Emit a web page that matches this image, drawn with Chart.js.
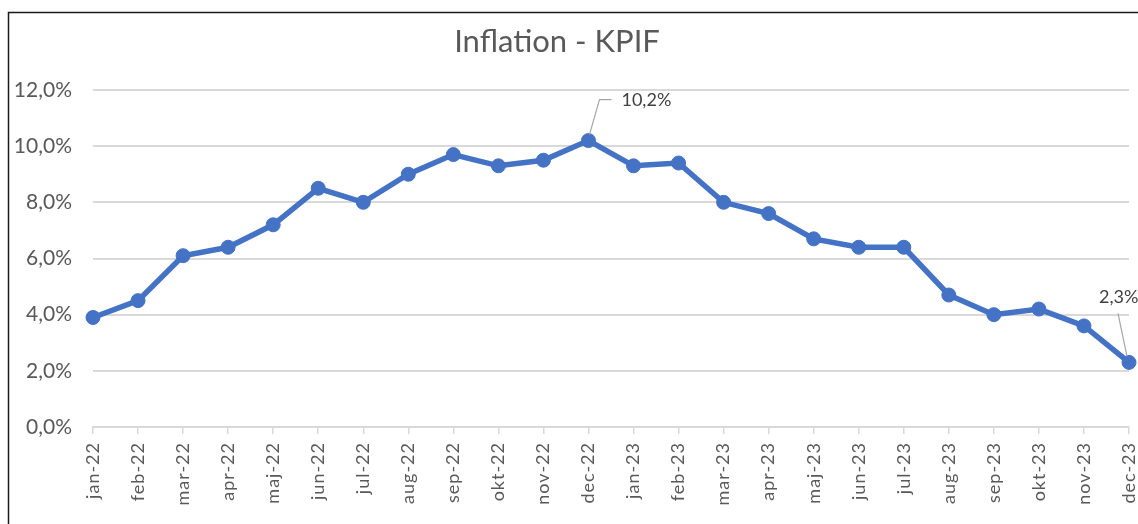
<!DOCTYPE html>
<html>
<head>
<meta charset="utf-8">
<script src="https://cdn.jsdelivr.net/npm/chart.js@4"></script>
<style>
html,body{margin:0;padding:0;background:#fff;}
#wrap{position:absolute;left:0;top:0;width:1138px;height:524px;}
</style>
</head>
<body>
<div id="wrap"><canvas id="c" width="1138" height="524"></canvas></div>
<script>
const categories = ["jan-22","feb-22","mar-22","apr-22","maj-22","jun-22","jul-22","aug-22","sep-22","okt-22","nov-22","dec-22",
                    "jan-23","feb-23","mar-23","apr-23","maj-23","jun-23","jul-23","aug-23","sep-23","okt-23","nov-23","dec-23"];
const kpif = [3.9,4.5,6.1,6.4,7.2,8.5,8.0,9.0,9.7,9.3,9.5,10.2,
              9.3,9.4,8.0,7.6,6.7,6.4,6.4,4.7,4.0,4.2,3.6,2.3];
const yTicks = [0,2,4,6,8,10,12];
const labelledIndices = [11,23];
const titleText = "Inflation - KPIF";

function fmt(v, d){ return v.toFixed(d).replace('.', ',') + '%'; }

const framePlugin = {
  id:'frame',
  beforeDraw(chart){
    const ctx = chart.ctx;
    ctx.save();
    ctx.fillStyle = '#fff';
    ctx.fillRect(0,0,chart.width,chart.height);
    ctx.strokeStyle = '#1a1a1a';
    ctx.lineWidth = 1.5;
    ctx.beginPath();
    ctx.moveTo(8.5, chart.height);
    ctx.lineTo(8.5, 12.5);
    ctx.lineTo(chart.width, 12.5);
    ctx.stroke();
    // title
    ctx.fillStyle = '#595959';
    ctx.font = '31px Lato';
    ctx.textAlign = 'center';
    ctx.textBaseline = 'middle';
    ctx.fillText(titleText, 557, 42);
    ctx.restore();
  }
};

const spacingPlugin = {
  id:'spacing',
  afterLayout(chart){
    const sc = chart.scales.x;
    if (sc && !sc._patched){
      const orig = sc.drawLabels.bind(sc);
      sc.drawLabels = function(area){
        const ctx = this.ctx;
        ctx.save();
        try { ctx.letterSpacing = '1px'; } catch(e){}
        orig(area);
        ctx.restore();
      };
      sc._patched = true;
    }
  }
};

const labelPlugin = {
  id:'callouts',
  afterDatasetsDraw(chart){
    const ctx = chart.ctx;
    const meta = chart.getDatasetMeta(0);
    ctx.save();
    ctx.font = '18px Lato';
    ctx.fillStyle = '#404040';
    ctx.strokeStyle = '#a6a6a6';
    ctx.lineWidth = 1.2;
    ctx.textBaseline = 'middle';
    labelledIndices.forEach(i => {
      const p = meta.data[i];
      const px = p.x, py = p.y;
      const txt = fmt(kpif[i], 1);
      ctx.beginPath();
      if (i === 11){
        ctx.moveTo(px+1, py-6);
        ctx.lineTo(px+11, py-41);
        ctx.lineTo(px+23, py-41);
        ctx.stroke();
        ctx.textAlign = 'left';
        ctx.fillText(txt, px+33, py-40);
      } else {
        ctx.moveTo(px-2, py-6);
        ctx.lineTo(px-11, py-49);
        ctx.stroke();
        ctx.textAlign = 'left';
        ctx.fillText(txt, px-30, py-65);
      }
    });
    ctx.restore();
  }
};

new Chart(document.getElementById('c'), {
  type:'line',
  data:{
    labels: categories,
    datasets:[{
      data: kpif,
      borderColor:'#4472C4',
      backgroundColor:'#4472C4',
      borderWidth:5.5,
      pointRadius:7,
      pointHoverRadius:7,
      pointBackgroundColor:'#4472C4',
      pointBorderColor:'#4472C4',
      pointBorderWidth:1,
      tension:0,
      clip:false
    }]
  },
  options:{
    responsive:false,
    animation:false,
    devicePixelRatio:1,
    layout:{padding:{left:0,right:9,top:90,bottom:0}},
    plugins:{
      legend:{display:false},
      tooltip:{enabled:false},
      title:{display:false}
    },
    scales:{
      x:{
        offset:false,
        afterFit(scale){ scale.height = 97; scale.paddingLeft = 0; scale.paddingRight = 0; },
        grid:{drawOnChartArea:false, drawTicks:true, tickLength:7, color:'#d9d9d9', lineWidth:1.5},
        border:{display:true, color:'#d9d9d9', width:2},
        ticks:{
          color:'#595959',
          font:{family:'Lato',size:18},
          maxRotation:90, minRotation:90,
          padding:8,
          autoSkip:false
        }
      },
      y:{
        min:0,max:12,
        afterBuildTicks(scale){ scale.ticks = yTicks.map(v=>({value:v})); },
        afterFit(scale){ scale.width = 93; scale.paddingTop = 0; scale.paddingBottom = 0; },
        grid:{drawTicks:false, color:'#d9d9d9', lineWidth:2},
        border:{display:false},
        ticks:{
          color:'#595959',
          font:{family:'Lato',size:21},
          padding:21,
          callback:(v)=>fmt(v,1)
        }
      }
    }
  },
  plugins:[framePlugin, spacingPlugin, labelPlugin]
});
</script>
</body>
</html>
